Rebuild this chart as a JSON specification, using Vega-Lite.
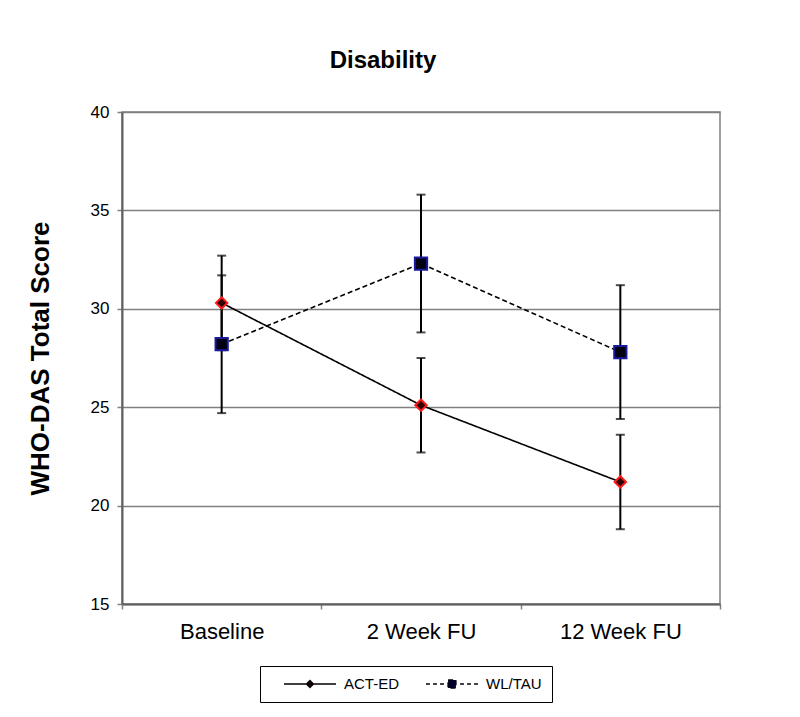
{
  "$schema": "https://vega.github.io/schema/vega-lite/v6.json",
  "width": 598,
  "height": 492,
  "autosize": "none",
  "padding": {"left": 122, "top": 112, "right": 80, "bottom": 113},
  "background": "white",
  "title": {"text": "Disability", "fontSize": 24, "font": "Liberation Sans", "fontWeight": "bold", "color": "black", "offset": 30, "frame": "group", "anchor": "middle", "dx": -38},
  "config": {"view": {"stroke": "#808080", "strokeWidth": 1.5}, "font": "Liberation Sans"},
  "data": {"values": [
    {"time": "Baseline", "group": "ACT-ED", "mean": 30.3, "lo": 27.9, "hi": 32.7},
    {"time": "2 Week FU", "group": "ACT-ED", "mean": 25.1, "lo": 22.7, "hi": 27.5},
    {"time": "12 Week FU", "group": "ACT-ED", "mean": 21.2, "lo": 18.8, "hi": 23.6},
    {"time": "Baseline", "group": "WL/TAU", "mean": 28.2, "lo": 24.7, "hi": 31.7},
    {"time": "2 Week FU", "group": "WL/TAU", "mean": 32.3, "lo": 28.8, "hi": 35.8},
    {"time": "12 Week FU", "group": "WL/TAU", "mean": 27.8, "lo": 24.4, "hi": 31.2}
  ]},
  "encoding": {
    "x": {"field": "time", "type": "nominal", "sort": ["Baseline", "2 Week FU", "12 Week FU"],
      "scale": {"paddingInner": 0, "paddingOuter": 0},
      "axis": {"title": null, "labelAngle": 0, "labelFontSize": 22, "labelColor": "black", "labelPadding": 12, "tickBand": "extent", "tickSize": 5, "tickColor": "#808080", "tickWidth": 1.5, "domainColor": "#606060", "domainWidth": 2, "grid": false}}
  },
  "layer": [
    {
      "mark": {"type": "rule", "color": "black", "strokeWidth": 2},
      "encoding": {
        "y": {"field": "lo", "type": "quantitative", "scale": {"domain": [15, 40], "nice": false, "zero": false},
          "axis": {"title": "WHO-DAS Total Score", "titleFontSize": 26, "titleFontWeight": "bold", "titleColor": "black", "titlePadding": 37, "values": [15, 20, 25, 30, 35, 40], "labelFontSize": 17, "labelColor": "black", "labelPadding": 8, "tickSize": 5, "tickColor": "#808080", "tickWidth": 1.5, "domainColor": "#606060", "domainWidth": 2, "grid": true, "gridColor": "#808080", "gridWidth": 1.3}},
        "y2": {"field": "hi"}
      }
    },
    {
      "mark": {"type": "tick", "color": "black", "thickness": 2, "size": 9, "orient": "horizontal"},
      "encoding": {"y": {"field": "lo", "type": "quantitative", "title": "WHO-DAS Total Score"}}
    },
    {
      "mark": {"type": "tick", "color": "black", "thickness": 2, "size": 9, "orient": "horizontal"},
      "encoding": {"y": {"field": "hi", "type": "quantitative", "title": "WHO-DAS Total Score"}}
    },
    {
      "mark": {"type": "line", "strokeWidth": 1.6},
      "encoding": {
        "y": {"field": "mean", "type": "quantitative", "title": "WHO-DAS Total Score"},
        "color": {"field": "group", "type": "nominal", "scale": {"range": ["black", "black"]},
          "legend": {"orient": "none", "legendX": 138, "legendY": 554, "direction": "horizontal", "title": null,
            "strokeColor": "#000", "padding": 10, "fillColor": "white", "labelFontSize": 15, "labelColor": "black",
            "symbolSize": 2700, "symbolStrokeWidth": 1.5, "columnPadding": 12, "labelOffset": 7, "symbolOffset": 13, "clipHeight": 16,
            "encode": {"symbols": {"update": {
              "shape": {"signal": "datum.value === 'ACT-ED' ? 'M-1,0L1,0M0,-0.13L0.13,0L0,0.13L-0.13,0Z' : 'M-1,0L-0.85,0M-0.73,0L-0.58,0M-0.46,0L-0.31,0M-0.15,-0.15L0.15,-0.15L0.15,0.15L-0.15,0.15ZM0.31,0L0.46,0M0.58,0L0.73,0M0.85,0L1,0'"},
              "fill": {"signal": "datum.value === 'ACT-ED' ? '#500000' : '#000030'"},
              "stroke": {"value": "black"},
              "strokeDash": {"value": []},
              "opacity": {"value": 1}
            }}}}},
        "strokeDash": {"field": "group", "type": "nominal", "scale": {"range": [[1, 0], [5, 3]]}, "legend": null}
      }
    },
    {
      "transform": [{"filter": "datum.group === 'ACT-ED'"}],
      "mark": {"type": "point", "shape": "diamond", "size": 130, "filled": true, "fill": "#300000", "stroke": "#ff1a1a", "strokeWidth": 2, "opacity": 1},
      "encoding": {"y": {"field": "mean", "type": "quantitative", "title": "WHO-DAS Total Score"}}
    },
    {
      "transform": [{"filter": "datum.group === 'WL/TAU'"}],
      "mark": {"type": "point", "shape": "square", "size": 150, "filled": true, "fill": "#000010", "stroke": "#1a1aa0", "strokeWidth": 2, "opacity": 1},
      "encoding": {"y": {"field": "mean", "type": "quantitative", "title": "WHO-DAS Total Score"}}
    }
  ]
}
